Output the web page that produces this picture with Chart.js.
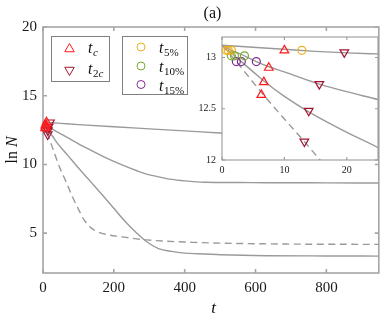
<!DOCTYPE html>
<html>
<head>
<meta charset="utf-8">
<script src="https://cdn.jsdelivr.net/npm/chart.js@4.4.1/dist/chart.umd.min.js"></script>
<style>
  html, body { margin: 0; padding: 0; background: #fff; }
  #wrap { position: relative; width: 385px; height: 316px; }
  #main { position: absolute; left: 0; top: 0; }
  #inset { position: absolute; left: 190px; top: 25px; }
</style>
</head>
<body>
<div id="wrap">
  <canvas id="main" width="385" height="316"></canvas>
  <canvas id="inset" width="195" height="165"></canvas>
</div>
<script>
// curves, ln N against t
const tA = [0, 5, 10, 15, 20, 25, 50, 100, 200, 300, 400, 500, 600, 700, 800, 948];
const lnA = [13.12, 13.10, 13.08, 13.06, 13.045, 13.035, 12.99, 12.9, 12.74, 12.59, 12.44, 12.29, 12.15, 12.0, 11.86, 11.68];

const tB = [0, 1.5, 3.6, 5.5, 7.5, 10, 15.6, 25, 50, 79, 125, 172, 218, 265, 292, 330, 363, 400, 456, 550, 632, 800, 948];
const lnB = [13.12, 13.07, 13.016, 12.96, 12.91, 12.86, 12.74, 12.59, 12.22, 11.81, 11.16, 10.55, 10.02, 9.54, 9.30, 9.08, 8.91, 8.80, 8.70, 8.68, 8.67, 8.66, 8.65];

const tC = [0, 2, 3.1, 5, 6.7, 10, 13.9, 20, 25, 42, 70, 97, 135, 172, 200, 228, 265, 292, 326, 363, 400, 437, 502, 632, 800, 948];
const lnC = [13.12, 13.015, 12.96, 12.86, 12.77, 12.62, 12.47, 12.27, 12.12, 11.5, 10.66, 9.83, 8.73, 7.65, 6.81, 5.96, 5.0, 4.39, 3.88, 3.67, 3.55, 3.5, 3.43, 3.36, 3.34, 3.33];

const tD = [0, 0.7, 1.5, 2.3, 6.3, 10, 13.2, 15.7, 25, 46, 65, 83, 100, 116, 135, 153, 180, 218, 292, 437, 632, 948];
const lnD = [13.12, 13.07, 13.016, 12.96, 12.66, 12.40, 12.18, 12.0, 11.35, 9.85, 8.75, 7.65, 6.75, 5.96, 5.4, 5.11, 4.9, 4.75, 4.51, 4.32, 4.22, 4.18];

// marked times
const tcT = [10.0, 7.5, 6.7, 6.3];
const tcV = [13.07, 12.90, 12.76, 12.635];
const t2cT = [19.6, 15.6, 13.9, 13.2];
const t2cV = [13.05, 12.74, 12.48, 12.18];
const t5T = [12.8, 1.5, 1.0, 0.7];
const t5V = [13.07, 13.07, 13.07, 13.07];
const t10T = [3.6, 2.0, 1.5];
const t10V = [13.016, 13.016, 13.016];
const t15T = [5.5, 3.1, 2.3];
const t15V = [12.96, 12.96, 12.96];

const mainXTicks = [0, 200, 400, 600, 800];
const mainYTicks = [5, 10, 15, 20];
const insetXTicks = [0, 10, 20];
const insetYTicks = [12, 12.5, 13];

const GREY = '#9a9a9a';
const RED = '#ff1a1a';
const DARKRED = '#a2142f';
const ORANGE = '#edb120';
const GREEN = '#77ac30';
const PURPLE = '#7e2f8e';
const SERIF = '"Liberation Serif", "Times New Roman", serif';

const pts = (ts, vs) => ts.map((t, i) => ({ x: t, y: vs[i] }));

function curve(ts, vs, dashed) {
    return {
        data: pts(ts, vs),
        showLine: true,
        borderColor: GREY,
        borderWidth: 1.4,
        borderDash: dashed ? [7, 4.5] : [],
        pointRadius: 0,
        cubicInterpolationMode: 'monotone',
        fill: false
    };
}

function marks(ts, vs, color, style, rot, r) {
    return {
        data: pts(ts, vs),
        showLine: false,
        pointStyle: style,
        pointRotation: rot,
        pointRadius: r,
        pointBorderColor: color,
        pointBackgroundColor: 'rgba(0,0,0,0)',
        pointBorderWidth: 1.2,
        clip: false
    };
}

// box, inward ticks on all four sides
const frame = {
    id: 'frame',
    beforeDatasetsDraw(chart, args, o) {
        const { ctx, chartArea: a, scales: { x, y } } = chart;
        ctx.save();
        if (o.fill) {
            ctx.fillStyle = '#fff';
            ctx.fillRect(a.left, a.top, a.right - a.left, a.bottom - a.top);
        }
        ctx.strokeStyle = o.color;
        ctx.lineWidth = o.width;
        ctx.strokeRect(a.left, a.top, a.right - a.left, a.bottom - a.top);
        ctx.beginPath();
        x.ticks.forEach(t => {
            const px = x.getPixelForValue(t.value);
            ctx.moveTo(px, a.bottom); ctx.lineTo(px, a.bottom - o.len);
            ctx.moveTo(px, a.top); ctx.lineTo(px, a.top + o.len);
        });
        y.ticks.forEach(t => {
            const py = y.getPixelForValue(t.value);
            ctx.moveTo(a.left, py); ctx.lineTo(a.left + o.len, py);
            ctx.moveTo(a.right, py); ctx.lineTo(a.right - o.len, py);
        });
        ctx.stroke();
        ctx.restore();
    }
};

// t with a subscript, parts = [[text, italic], ...]
function tSub(ctx, x, y, parts) {
    ctx.font = 'italic 16px ' + SERIF;
    ctx.fillText('t', x, y);
    x += ctx.measureText('t').width + 0.5;
    parts.forEach(([txt, it]) => {
        ctx.font = (it ? 'italic ' : '') + '11px ' + SERIF;
        ctx.fillText(txt, x, y + 3);
        x += ctx.measureText(txt).width;
    });
}

function mark(ctx, color, style, rot, r, x, y) {
    ctx.strokeStyle = color;
    ctx.fillStyle = 'rgba(0,0,0,0)';
    Chart.helpers.drawPoint(ctx, { pointStyle: style, rotation: rot, radius: r, borderWidth: 1.2 }, x, y);
}

// legends, axis titles, panel label
const labels = {
    id: 'labels',
    afterDraw(chart) {
        const ctx = chart.ctx;
        ctx.save();
        ctx.lineWidth = 1;
        ctx.strokeStyle = '#808080';
        ctx.fillStyle = '#fff';
        ctx.fillRect(51, 36, 59, 46);
        ctx.strokeRect(51.5, 36.5, 58, 45);
        ctx.fillRect(122, 36, 66, 59);
        ctx.strokeRect(122.5, 36.5, 65, 58);

        mark(ctx, RED, 'triangle', 0, 5.5, 69.5, 49);
        mark(ctx, DARKRED, 'triangle', 180, 5.5, 69.5, 70);
        mark(ctx, ORANGE, 'circle', 0, 4, 141, 47);
        mark(ctx, GREEN, 'circle', 0, 4, 141, 66);
        mark(ctx, PURPLE, 'circle', 0, 4, 141, 84.5);

        ctx.fillStyle = '#111';
        ctx.textBaseline = 'alphabetic';
        ctx.textAlign = 'left';
        tSub(ctx, 88, 53, [['c', true]]);
        tSub(ctx, 88, 73.5, [['2', false], ['c', true]]);
        tSub(ctx, 159, 53, [['5%', false]]);
        tSub(ctx, 159, 72, [['10%', false]]);
        tSub(ctx, 159, 90.5, [['15%', false]]);

        // (a)
        ctx.font = '16px ' + SERIF;
        ctx.textAlign = 'center';
        ctx.textBaseline = 'middle';
        ctx.fillText('(a)', 212.5, 14);

        // x title
        ctx.font = 'italic 17px ' + SERIF;
        ctx.textBaseline = 'alphabetic';
        ctx.fillText('t', 213.5, 313);

        // y title
        ctx.translate(17, 150);
        ctx.rotate(-Math.PI / 2);
        ctx.textAlign = 'left';
        ctx.font = '16px ' + SERIF;
        const w1 = ctx.measureText('ln ').width;
        ctx.font = 'italic 16px ' + SERIF;
        const w2 = ctx.measureText('N').width;
        ctx.font = '16px ' + SERIF;
        ctx.fillText('ln ', -(w1 + w2) / 2, 0);
        ctx.font = 'italic 16px ' + SERIF;
        ctx.fillText('N', -(w1 + w2) / 2 + w1, 0);
        ctx.restore();
    }
};

function scale(min, max, ticks, size, pad, fit) {
    return {
        type: 'linear',
        min, max,
        afterBuildTicks: s => { s.ticks = ticks.map(v => ({ value: v })); },
        afterFit: fit,
        grid: { display: false, drawTicks: false, tickLength: 0 },
        border: { display: false },
        ticks: {
            padding: pad,
            autoSkip: false,
            maxRotation: 0,
            color: '#1a1a1a',
            font: { family: SERIF, size },
            callback: v => String(v)
        }
    };
}

new Chart(document.getElementById('main'), {
    type: 'scatter',
    data: {
        datasets: [
            marks(tcT, tcV, RED, 'triangle', 0, 5),
            marks(t2cT, t2cV, DARKRED, 'triangle', 180, 5),
            curve(tA, lnA, false),
            curve(tB, lnB, false),
            curve(tC, lnC, false),
            curve(tD, lnD, true)
        ]
    },
    options: {
        responsive: false,
        animation: false,
        events: [],
        layout: { padding: { top: 27, right: 1, left: 0, bottom: 0 } },
        plugins: {
            legend: { display: false },
            tooltip: { enabled: false },
            frame: { color: '#a6a6a6', width: 1.6, len: 4, fill: false }
        },
        scales: {
            x: scale(0, 948, mainXTicks, 15, 6, s => { s.height = 43; }),
            y: scale(2.1, 20, mainYTicks, 15, 6, s => { s.width = 43; })
        }
    },
    plugins: [frame, labels]
});

new Chart(document.getElementById('inset'), {
    type: 'scatter',
    data: {
        datasets: [
            marks(tcT, tcV, RED, 'triangle', 0, 5),
            marks(t2cT, t2cV, DARKRED, 'triangle', 180, 5),
            marks(t5T, t5V, ORANGE, 'circle', 0, 4),
            marks(t10T, t10V, GREEN, 'circle', 0, 4),
            marks(t15T, t15V, PURPLE, 'circle', 0, 4),
            curve(tA, lnA, false),
            curve(tB, lnB, false),
            curve(tC, lnC, false),
            curve(tD, lnD, true)
        ]
    },
    options: {
        responsive: false,
        animation: false,
        events: [],
        layout: { padding: { top: 8, right: 7, left: 0, bottom: 0 } },
        plugins: {
            legend: { display: false },
            tooltip: { enabled: false },
            frame: { color: '#9a9a9a', width: 1.1, len: 3, fill: true }
        },
        scales: {
            x: scale(0, 25, insetXTicks, 10, 4, s => { s.height = 30; }),
            y: scale(12, 13.2, insetYTicks, 10, 6, s => { s.width = 32; })
        }
    },
    plugins: [frame]
});
</script>
</body>
</html>
